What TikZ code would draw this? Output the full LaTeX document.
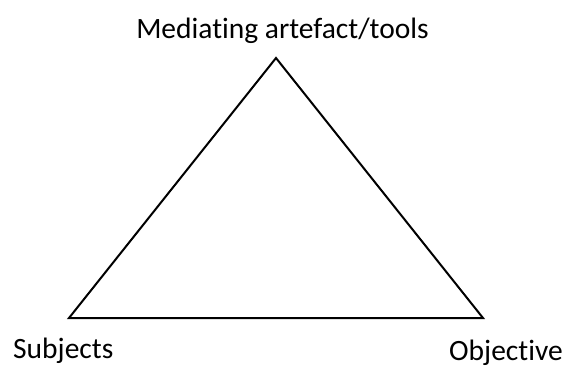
\documentclass[tikz,border=0pt]{standalone}
\usepackage{fontspec}
\setmainfont{Carlito}[Ligatures=NoCommon]
\begin{document}
\begin{tikzpicture}[x=1pt,y=-1pt,
  edge/.style={draw=black,line width=2pt,line join=miter},
  label/.style={inner sep=0pt,font=\fontsize{29.5}{34}\selectfont}]
\useasboundingbox (0,0) rectangle (563,367);
\coordinate (apex) at (276,58);
\coordinate (left) at (69,318);
\coordinate (right) at (483,318);
\draw[edge] (apex) -- (right) -- (left) -- cycle;
\node[label,anchor=base] (tools) at (282.5,38) {Mediating artefact/tools};
\node[label,anchor=base west] (subj) at (13,358) {Subjects};
\node[label,anchor=base west] (obj) at (449,360) {Objective};
\end{tikzpicture}
\end{document}
